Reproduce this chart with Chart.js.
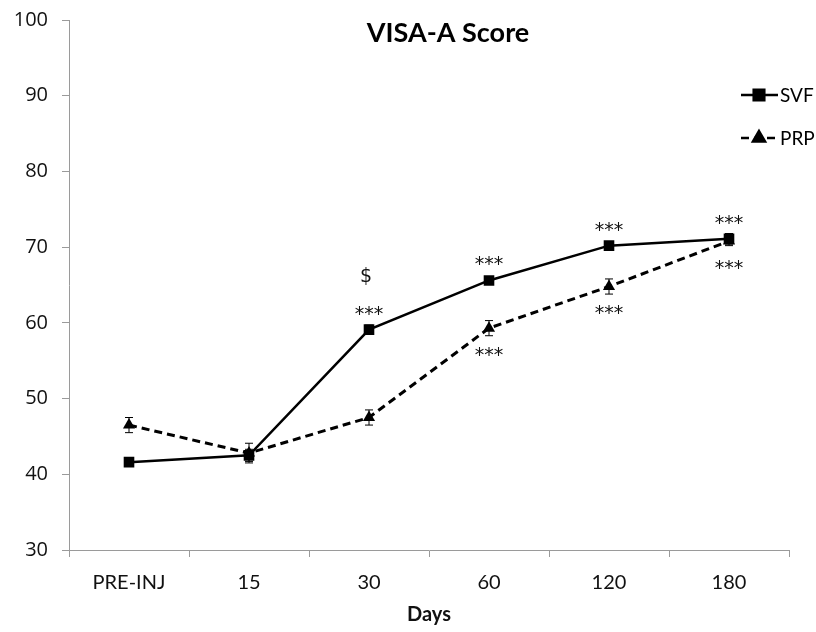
<!DOCTYPE html>
<html>
<head>
<meta charset="utf-8">
<script src="https://cdn.jsdelivr.net/npm/chart.js@4/dist/chart.umd.min.js"></script>
<style>
  html, body { margin: 0; padding: 0; background: #fff; }
  #wrap { width: 816px; height: 632px; }
</style>
</head>
<body>
<div id="wrap"><canvas id="visaChart" width="816" height="632"></canvas></div>
<script>
// time points and VISA-A means / error bars
const days = ['PRE-INJ', '15', '30', '60', '120', '180'];
const svfMean = [41.6, 42.5, 59.1, 65.6, 70.2, 71.1];
const svfErr = [0.5, 0.8, 0.6, 0.5, 0.5, 0.7];
const prpMean = [46.5, 42.8, 47.5, 59.3, 64.8, 70.8];
const prpErr = [1.0, 1.3, 1.0, 1.0, 1.0, 0.6];

// significance marks (above SVF, below PRP)
const svfStars = ['', '', '***', '***', '***', '***'];
const svfDollar = ['', '', '$', '', '', ''];
const prpStars = ['', '', '', '***', '***', '***'];

const yMin = 30, yMax = 100, yStep = 10;

const errorBars = {
  id: 'errorBars',
  afterDatasetsDraw(chart) {
    const ctx = chart.ctx;
    const y = chart.scales.y;
    const errs = [svfErr, prpErr];
    ctx.save();
    ctx.strokeStyle = '#000';
    ctx.lineWidth = 1;
    chart.data.datasets.forEach((ds, i) => {
      const meta = chart.getDatasetMeta(i);
      meta.data.forEach((pt, j) => {
        const top = y.getPixelForValue(ds.data[j] + errs[i][j]);
        const bot = y.getPixelForValue(ds.data[j] - errs[i][j]);
        ctx.beginPath();
        ctx.moveTo(pt.x, top); ctx.lineTo(pt.x, bot);
        ctx.moveTo(pt.x - 4, top); ctx.lineTo(pt.x + 4, top);
        ctx.moveTo(pt.x - 4, bot); ctx.lineTo(pt.x + 4, bot);
        ctx.stroke();
      });
    });
    ctx.restore();
  }
};

const marks = {
  id: 'marks',
  afterDatasetsDraw(chart) {
    const ctx = chart.ctx;
    ctx.save();
    ctx.fillStyle = '#111';
    ctx.textAlign = 'center';
    ctx.textBaseline = 'middle';
    const svf = chart.getDatasetMeta(0).data;
    const prp = chart.getDatasetMeta(1).data;
    ctx.font = '19px "DejaVu Sans", sans-serif';
    svf.forEach((pt, j) => {
      if (svfStars[j]) ctx.fillText(svfStars[j], pt.x, pt.y - 15);
    });
    prp.forEach((pt, j) => {
      if (prpStars[j]) ctx.fillText(prpStars[j], pt.x, pt.y + 28);
    });
    svf.forEach((pt, j) => {
      if (svfDollar[j]) ctx.fillText(svfDollar[j], pt.x - 3, pt.y - 53);
    });
    ctx.restore();
  }
};

const titleAndLegend = {
  id: 'titleAndLegend',
  afterDraw(chart) {
    const ctx = chart.ctx;
    ctx.save();
    ctx.fillStyle = '#000';
    ctx.textAlign = 'center';
    ctx.textBaseline = 'middle';
    ctx.font = 'bold 27px Lato, sans-serif';
    ctx.fillText('VISA-A Score', 448, 33);

    // legend: line with marker, then label
    chart.data.datasets.forEach((ds, i) => {
      const ly = 95 + i * 43;
      ctx.strokeStyle = '#000';
      ctx.lineWidth = 2.5;
      ctx.setLineDash(ds.borderDash || []);
      ctx.beginPath();
      ctx.moveTo(741, ly); ctx.lineTo(778, ly);
      ctx.stroke();
      ctx.setLineDash([]);
      Chart.helpers.drawPoint(ctx, {
        pointStyle: ds.pointStyle, radius: ds.pointRadius, borderWidth: 1
      }, 759, ly);
      ctx.fill();
      ctx.textAlign = 'left';
      ctx.font = '19px Lato, sans-serif';
      ctx.fillText(ds.label, 780, ly + 1);
    });
    ctx.restore();
  }
};

new Chart(document.getElementById('visaChart').getContext('2d'), {
  type: 'line',
  data: {
    labels: days,
    datasets: [{
      label: 'SVF',
      data: svfMean,
      borderColor: '#000',
      backgroundColor: '#000',
      borderWidth: 2.5,
      pointStyle: 'rect',
      pointRadius: 7.5,
      pointBorderWidth: 0,
      tension: 0
    }, {
      label: 'PRP',
      data: prpMean,
      borderColor: '#000',
      backgroundColor: '#000',
      borderWidth: 3,
      borderDash: [8, 5],
      pointStyle: 'triangle',
      pointRadius: 7,
      pointBorderWidth: 0,
      tension: 0
    }]
  },
  options: {
    responsive: false,
    animation: false,
    layout: { padding: { top: 20, right: 27, bottom: 0, left: 0 } },
    plugins: {
      legend: { display: false },
      title: { display: false },
      tooltip: { enabled: false }
    },
    scales: {
      x: {
        offset: true,
        afterFit(scale) { scale.height = 82; },
        grid: { drawOnChartArea: false, drawTicks: true, tickLength: 7, color: '#9a9a9a', offset: true },
        border: { color: '#9a9a9a', width: 1 },
        ticks: { color: '#111', font: { family: 'Lato', size: 20 }, padding: 14 },
        title: {
          display: true, text: 'Days', color: '#111',
          font: { family: 'Lato', size: 20, weight: 'bold' },
          padding: { top: 0, bottom: 5 }
        }
      },
      y: {
        min: yMin, max: yMax,
        afterFit(scale) {
          scale.width = 69;
          scale.paddingTop = 0;
          scale.paddingBottom = 0;
        },
        grid: { drawOnChartArea: false, drawTicks: true, tickLength: 7, color: '#9a9a9a' },
        border: { color: '#9a9a9a', width: 1 },
        ticks: { stepSize: yStep, color: '#111', font: { family: 'Open Sans', size: 20 }, padding: 14 }
      }
    }
  },
  plugins: [errorBars, marks, titleAndLegend]
});
</script>
</body>
</html>
